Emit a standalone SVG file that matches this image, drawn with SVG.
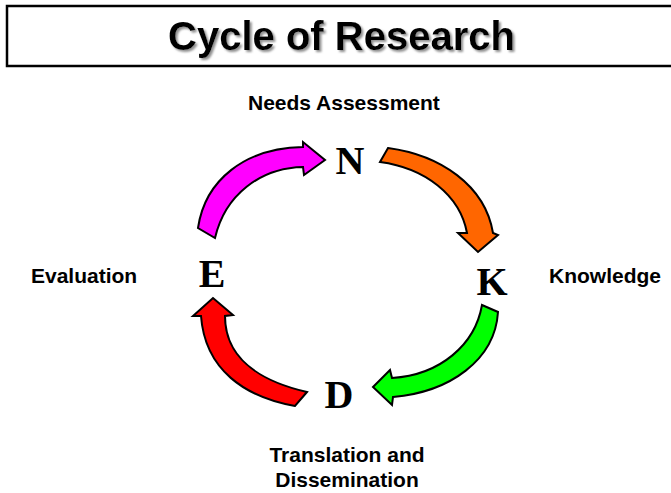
<svg xmlns="http://www.w3.org/2000/svg" width="671" height="493" viewBox="0 0 671 493">
<style>
.title{font-family:"Liberation Sans",Arial,sans-serif;font-weight:bold;font-size:40px;text-anchor:middle}
.lbl{font-family:"Liberation Sans",Arial,sans-serif;font-weight:bold;font-size:21px}
.let{font-family:"Liberation Serif","Times New Roman",serif;font-weight:bold;font-size:40px;text-anchor:middle;fill:#000}
.arr{stroke:#000;stroke-width:2;stroke-linejoin:miter}
</style>
<defs>
<filter id="shadow" x="-10%" y="-20%" width="120%" height="150%">
<feDropShadow dx="2" dy="2" stdDeviation="0.8" flood-color="#909090" flood-opacity="1"/>
</filter>
</defs>
<rect x="0" y="0" width="671" height="493" fill="#fff"/>
<g id="title">
<rect x="7" y="6" width="690" height="60" fill="#fff" stroke="#000" stroke-width="2.5"/>
<text class="title" x="341.5" y="50" fill="#000" filter="url(#shadow)">Cycle of Research</text>
</g>
<g id="connectors">
<path class="arr" fill="#ff00ff" d="M198,228 C205,180 245,148 303,147 L303,142 L325,160 L304,175 L303,167 C260,168 225,195 215,238 Z"/>
<path class="arr" fill="#ff6600" d="M388,148 C440,155 485,185 493,233 L498,235 L478,252 L458,233 L467,233 C460,195 425,168 380,162 Z"/>
<path class="arr" fill="#00ff00" d="M482,305 C475,345 440,375 392,378 L390,370 L373,387 L392,405 L393,397 C450,392 495,360 498,312 Z"/>
<path class="arr" fill="#ff0000" d="M225,316 C225,355 255,380 307,392 L295,406 C245,397 205,370 201,316 L193,316 L213,298 L233,315 Z"/>
</g>
<g id="node-N">
<text class="lbl" x="248" y="110">Needs Assessment</text>
<text class="let" x="350" y="174">N</text>
</g>
<g id="node-K">
<text class="let" x="492" y="295">K</text>
<text class="lbl" x="549" y="283">Knowledge</text>
</g>
<g id="node-D">
<text class="let" x="339" y="408">D</text>
<text class="lbl" x="347" y="462" text-anchor="middle">Translation and</text>
<text class="lbl" x="347" y="487" text-anchor="middle">Dissemination</text>
</g>
<g id="node-E">
<text class="let" x="212" y="287">E</text>
<text class="lbl" x="31" y="283">Evaluation</text>
</g>
</svg>
